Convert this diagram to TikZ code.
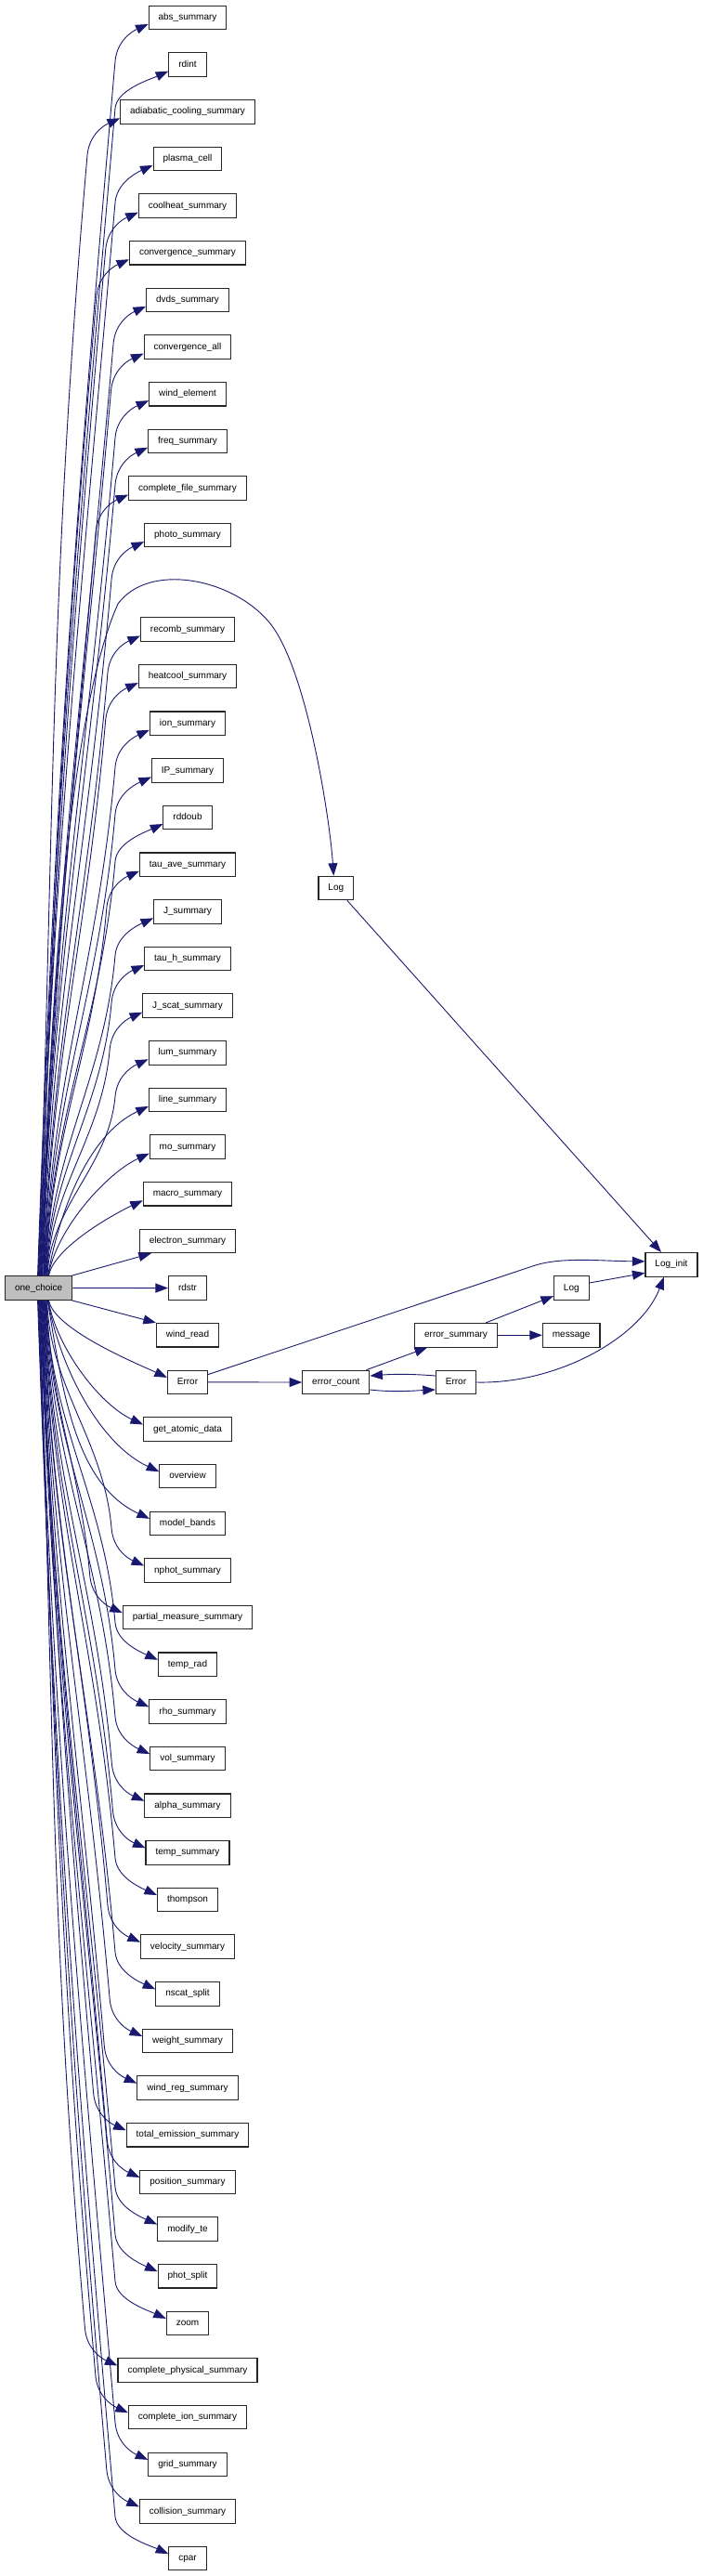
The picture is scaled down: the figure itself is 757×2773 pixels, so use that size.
\documentclass[tikz,border=0pt]{standalone}
\usepackage{fontspec}
\setmainfont{Liberation Sans}
\usetikzlibrary{arrows.meta,calc}
\definecolor{edgec}{HTML}{191970}
\definecolor{ocfill}{HTML}{BFBFBF}
\tikzset{
  fn/.style={draw=black!85, line width=1.1pt, fill=white, inner xsep=10.5pt, inner ysep=0pt,
    minimum height=25.5pt, text height=7.3pt, text depth=2.1pt, font=\fontsize{10}{12}\selectfont},
  root/.style={fn, fill=ocfill},
  edge/.style={draw=edgec, line width=0.9pt, -{Triangle[length=13.5pt,width=10pt]}},
}
\begin{document}
\begin{tikzpicture}[x=1pt,y=-1pt]
\useasboundingbox (0,0) rectangle (757,2773);
\node[root] (oc) at (41.7,1386.5) {one\_choice};
\foreach \r/\lab in {1/abs\_summary,2/rdint,3/adiabatic\_cooling\_summary,4/plasma\_cell,
  5/coolheat\_summary,6/convergence\_summary,7/dvds\_summary,8/convergence\_all,9/wind\_element,
  10/freq\_summary,11/complete\_file\_summary,12/photo\_summary,14/recomb\_summary,
  15/heatcool\_summary,16/ion\_summary,17/IP\_summary,18/rddoub,19/tau\_ave\_summary,
  20/J\_summary,21/tau\_h\_summary,22/J\_scat\_summary,23/lum\_summary,24/line\_summary,
  25/mo\_summary,26/macro\_summary,27/electron\_summary,28/rdstr,29/wind\_read,30/Error,
  31/get\_atomic\_data,32/overview,33/model\_bands,34/nphot\_summary,35/partial\_measure\_summary,
  36/temp\_rad,37/rho\_summary,38/vol\_summary,39/alpha\_summary,40/temp\_summary,41/thompson,
  42/velocity\_summary,43/nscat\_split,44/weight\_summary,45/wind\_reg\_summary,
  46/total\_emission\_summary,47/position\_summary,48/modify\_te,49/phot\_split,50/zoom,
  51/complete\_physical\_summary,52/complete\_ion\_summary,53/grid\_summary,
  54/collision\_summary,55/cpar}{
  \pgfmathsetmacro\yy{19+(\r-1)*50.65}
  \node[fn] (n\r) at (202,\yy) {\lab};
}
\node[fn] (log1) at (361.8,956) {Log};
\node[fn] (loginit) at (723,1361.3) {Log\_init};
\node[fn] (log2) at (615.3,1386.5) {Log};
\node[fn] (errsum) at (491,1437.3) {error\_summary};
\node[fn] (msg) at (615.2,1437.3) {message};
\node[fn] (errcnt) at (361.8,1488) {error\_count};
\node[fn] (err2) at (491,1488) {Error};
% fan above, far
\foreach \r in {1,...,12,14,15,16,17,18,19,20,21,22,23}{
  \pgfmathsetmacro\dx{35.3+13*((19+(\r-1)*50.65)/1373)}
  \draw[edge] let \p1=([xshift=\dx pt]oc.north west), \p2=([yshift=-7pt]n\r.west),
    \n1={min(\x2-35pt,124pt)}, \n2={0.39*(\y2-40pt-\y1)} in
    (\p1) .. controls ({\x1+0.035*\n2},{\y1+\n2}) and ({\n1-0.087*\n2},{\y2-40pt-\n2})
    .. ({\n1},{\y2-40pt}) .. controls ({\n1+1.7pt},{\y2-20pt}) and ({\x2-20pt},{\y2-9pt}) .. (\p2);
}
% fan above, near
\foreach \r in {24,25,26}{
  \pgfmathsetmacro\dx{35.3+13*((19+(\r-1)*50.65)/1373)}
  \draw[edge] let \p1=([xshift=\dx pt]oc.north west), \p2=([yshift=-7pt]n\r.west),
    \n2={0.39*(\y2-\y1)} in
    (\p1) .. controls ({\x1+0.17*\n2},{\y1+0.98*\n2}) and ({\x2-0.9*\n2},{\y2-0.42*\n2}) .. (\p2);
}
\draw[edge] ([xshift=-1pt]oc.north east) -- ([xshift=13pt]n27.south west);
\draw[edge] (oc.east) -- (n28.west);
\draw[edge] ([xshift=-1pt]oc.south east) -- (n29.north west);
% fan below, near
\foreach \r in {30,31,32,33}{
  \pgfmathsetmacro\dx{35.3+13*((2773-19-(\r-1)*50.65)/1373)}
  \draw[edge] let \p1=([xshift=\dx pt]oc.south west), \p2=([yshift=5pt]n\r.west),
    \n2={0.39*(\y1-\y2)} in
    (\p1) .. controls ({\x1+0.17*\n2},{\y1-0.98*\n2}) and ({\x2-0.9*\n2},{\y2+0.42*\n2}) .. (\p2);
}
% fan below, far
\foreach \r in {34,...,55}{
  \pgfmathsetmacro\dx{35.3+13*((2773-19-(\r-1)*50.65)/1373)}
  \draw[edge] let \p1=([xshift=\dx pt]oc.south west), \p2=([yshift=5pt]n\r.west),
    \n1={min(\x2-35pt,124pt)}, \n2={0.39*(\y1-\y2-40pt)} in
    (\p1) .. controls ({\x1+0.035*\n2},{\y1-\n2}) and ({\n1-0.087*\n2},{\y2+40pt+\n2})
    .. ({\n1},{\y2+40pt}) .. controls ({\n1+1.7pt},{\y2+20pt}) and ({\x2-20pt},{\y2+9pt}) .. (\p2);
}
% arc to first Log
\draw[edge] ([xshift=42pt]oc.north west) .. controls (52,1050) and (78,760) .. (127,650)
  .. controls (160,605) and (250,622) .. (290,670)
  .. controls (330,718) and (355,880) .. ([xshift=-2.5pt]log1.north);
\draw[edge] ([xshift=12pt]log1.south) -- ([xshift=-11pt]loginit.north);
% right cluster
\draw[edge] (n30.east) -- (errcnt.west);
\draw[edge] ([yshift=-5pt]n30.north east) -- (575,1362.5)
  .. controls (605,1352.5) and (650,1357.7) .. ([yshift=3.5pt]loginit.west);
\draw[edge] ([yshift=-8pt]errcnt.east) .. controls (425,1499) and (445,1497) .. ([yshift=-8pt]err2.west);
\draw[edge] ([yshift=7pt]err2.west) .. controls (445,1479) and (425,1479) .. ([yshift=7pt]errcnt.east);
\draw[edge] ([xshift=-4pt]errcnt.north east) -- ([xshift=14pt]errsum.south west);
\draw[edge] ([xshift=-13pt]errsum.north east) -- ([yshift=4.6pt]log2.south west);
\draw[edge] (errsum.east) -- (msg.west);
\draw[edge] ([yshift=5.5pt]log2.east) -- ([yshift=-9pt]loginit.west);
\draw[edge] (err2.east) .. controls (600,1490) and (690,1440) .. ([xshift=-8pt]loginit.south);
\end{tikzpicture}
\end{document}
